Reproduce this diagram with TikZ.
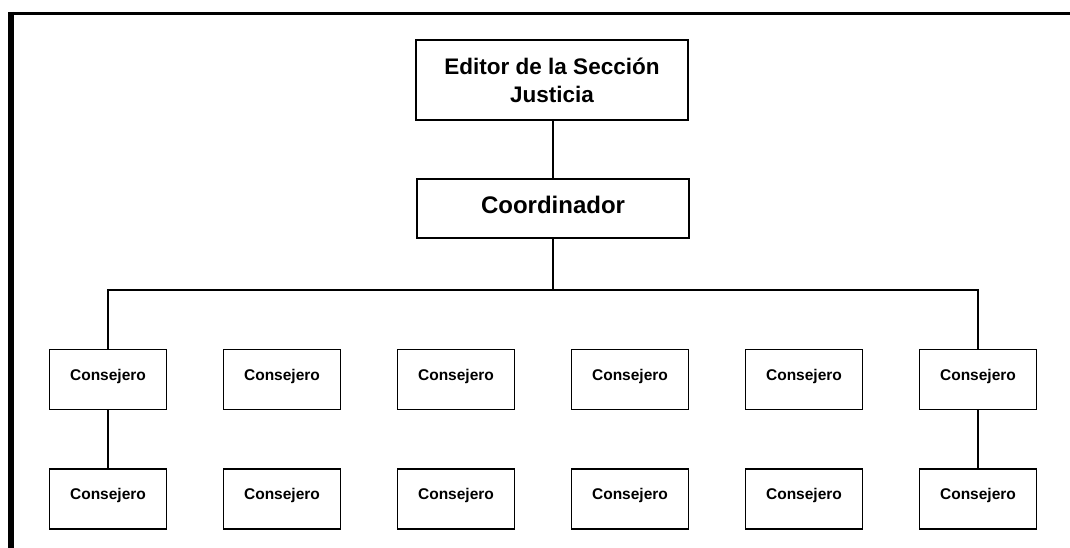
\documentclass[tikz,border=0pt]{standalone}
\usepackage{fontspec}
\setmainfont{Liberation Sans}
\usepackage{tikz}
\tikzstyle{jefe}=[draw, line width=1.6pt, minimum width=272pt, align=center, inner sep=0pt, font=\bfseries\fontsize{22.5}{28}\selectfont]
\tikzstyle{cons}=[draw, line width=1.6pt, minimum width=117pt, minimum height=60pt, inner sep=0pt, text depth=10pt, font=\bfseries\fontsize{15.5}{18}\selectfont]
\tikzstyle{linea}=[line width=1.4pt]

\begin{document}
\begin{tikzpicture}[x=1pt,y=1pt]
        \useasboundingbox (0,0) rectangle (1070,-548);
        % marco
        \draw [line width=3pt] (8,-14) -- (1070,-14);
        \draw [line width=6pt] (11,-12) -- (11,-548);
        \node [jefe, minimum height=80pt] (editor) at (552,-80) {Editor de la Sección\\Justicia};
        \node [jefe, minimum height=59pt, text depth=8pt, font=\bfseries\fontsize{24}{28}\selectfont] (coord) at (553,-208.5) {Coordinador};
        \foreach \x [count=\i] in {108,282,456,630,804,978} {
            \node [cons] (t\i) at (\x,-379.5) {Consejero};
            \node [cons] (b\i) at (\x,-499) {Consejero};
        }
        \draw [linea] (coord.north) -- (coord.north |- editor.south);
        \draw [linea] (coord.south) -- ++(0,-51) coordinate (bus);
        \draw [linea] (t1.north) |- (bus) -| (t6.north);
        \draw [linea] (t1) -- (b1);
        \draw [linea] (t6) -- (b6);
\end{tikzpicture}
\end{document}
